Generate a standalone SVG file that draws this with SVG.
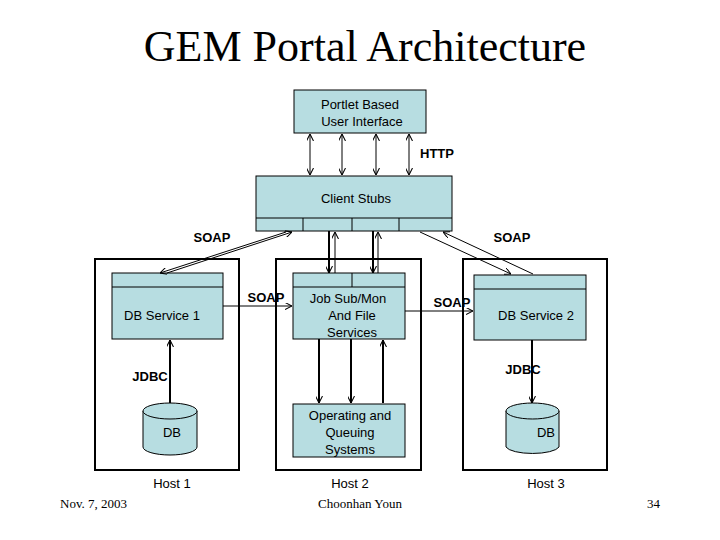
<svg xmlns="http://www.w3.org/2000/svg" width="720" height="540" viewBox="0 0 720 540">
<style>
.b{fill:#b7dde1;stroke:#000;stroke-width:1}
.h{fill:none;stroke:#000;stroke-width:2}
.t{font-family:"Liberation Sans",Arial,sans-serif;font-size:13px;text-anchor:middle}
.l{font-family:"Liberation Sans",Arial,sans-serif;font-size:13px;font-weight:bold;text-anchor:middle}
.s{font-family:"Liberation Serif","Times New Roman",serif}
.c{stroke:#000;stroke-width:1;fill:none}
.k{stroke:#000;stroke-width:2;fill:none}
</style>
<defs>
<marker id="a" viewBox="0 0 10 10" refX="10" refY="5" markerWidth="7" markerHeight="7" orient="auto-start-reverse" markerUnits="userSpaceOnUse"><path d="M0,0 L10,5 L0,10" fill="none" stroke="#000" stroke-width="1.5"/></marker>
</defs>
<rect width="720" height="540" fill="#fff"/>
<text x="365" y="61" class="s" font-size="44" text-anchor="middle">GEM Portal Architecture</text>
<g id="hosts">
<rect x="95" y="259" width="144" height="211" class="h"/>
<rect x="276" y="259" width="145" height="211" class="h"/>
<rect x="463" y="259" width="144" height="211" class="h"/>
<text x="172" y="488" class="t">Host 1</text>
<text x="350" y="488" class="t">Host 2</text>
<text x="546" y="488" class="t">Host 3</text>
</g>
<g id="portlet"><rect x="294" y="90" width="132" height="43" class="b"/>
<text x="360" y="109" class="t">Portlet Based</text><text x="362" y="126" class="t">User Interface</text></g>
<g id="stubs"><rect x="256" y="176" width="196" height="55" class="b"/>
<line x1="256" y1="218" x2="452" y2="218" class="c"/>
<line x1="303" y1="218" x2="303" y2="231" class="c"/><line x1="352" y1="218" x2="352" y2="231" class="c"/><line x1="399" y1="218" x2="399" y2="231" class="c"/>
<text x="356" y="203" class="t">Client Stubs</text></g>
<g id="dbs1"><rect x="112" y="273" width="111" height="66" class="b"/><line x1="112" y1="287" x2="223" y2="287" class="c"/>
<text x="162" y="320" class="t">DB Service 1</text></g>
<g id="job"><rect x="293" y="273" width="112" height="66" class="b"/><line x1="293" y1="287" x2="405" y2="287" class="c"/><line x1="352" y1="273" x2="352" y2="287" class="c"/>
<text x="348" y="303" class="t">Job Sub/Mon</text><text x="352" y="320" class="t">And File</text><text x="352" y="337" class="t">Services</text></g>
<g id="dbs2"><rect x="474" y="275" width="112" height="65" class="b"/><line x1="474" y1="289" x2="586" y2="289" class="c"/>
<text x="536" y="320" class="t">DB Service 2</text></g>
<g id="ops"><rect x="293" y="404" width="112" height="53" class="b"/>
<text x="350" y="420" class="t">Operating and</text><text x="350" y="437" class="t">Queuing</text><text x="350" y="454" class="t">Systems</text></g>
<g id="db1"><path d="M143,411 V447 A27,8 0 0 0 197,447 V411" class="b"/><ellipse cx="170" cy="411" rx="27" ry="8" class="b"/><text x="172" y="437" class="t">DB</text></g>
<g id="db3"><path d="M506,411 V447 A27,8 0 0 0 559,447 V411" class="b"/><ellipse cx="532.5" cy="411" rx="26.5" ry="8" class="b"/><text x="546" y="437" class="t">DB</text></g>
<g id="connectors">
<line x1="310" y1="134" x2="310" y2="175" class="c" marker-start="url(#a)" marker-end="url(#a)"/>
<line x1="342" y1="134" x2="342" y2="175" class="c" marker-start="url(#a)" marker-end="url(#a)"/>
<line x1="376" y1="134" x2="376" y2="175" class="c" marker-start="url(#a)" marker-end="url(#a)"/>
<line x1="409" y1="134" x2="409" y2="175" class="c" marker-start="url(#a)" marker-end="url(#a)"/>
<line x1="286" y1="232" x2="160" y2="273" class="c" marker-end="url(#a)"/>
<line x1="167" y1="273" x2="292" y2="232" class="c" marker-end="url(#a)"/>
<line x1="420" y1="232" x2="511" y2="274" class="c" marker-end="url(#a)"/>
<line x1="533" y1="274" x2="443" y2="232" class="c" marker-end="url(#a)"/>
<line x1="329" y1="231" x2="329" y2="273" class="k" marker-end="url(#a)"/>
<line x1="335" y1="273" x2="335" y2="232" class="c" marker-end="url(#a)"/>
<line x1="373" y1="231" x2="373" y2="273" class="k" marker-end="url(#a)"/>
<line x1="378" y1="273" x2="378" y2="232" class="c" marker-end="url(#a)"/>
<line x1="223" y1="306" x2="292" y2="306" class="c" marker-end="url(#a)"/>
<line x1="405" y1="311" x2="473" y2="311" class="c" marker-end="url(#a)"/>
<line x1="170" y1="403" x2="170" y2="340" class="k" marker-end="url(#a)"/>
<line x1="532" y1="340" x2="532" y2="403" class="k" marker-end="url(#a)"/>
<line x1="319" y1="339" x2="319" y2="403" class="k" marker-end="url(#a)"/>
<line x1="351" y1="339" x2="351" y2="403" class="k" marker-end="url(#a)"/>
<line x1="383" y1="403" x2="383" y2="340" class="k" marker-end="url(#a)"/>
</g>
<g id="labels">
<text x="437" y="158" class="l">HTTP</text>
<text x="212" y="242" class="l">SOAP</text>
<text x="512" y="242" class="l">SOAP</text>
<text x="266" y="302" class="l">SOAP</text>
<text x="452" y="307" class="l">SOAP</text>
<text x="150" y="381" class="l">JDBC</text>
<text x="523" y="374" class="l">JDBC</text>
</g>
<text x="60" y="508" class="s" font-size="13">Nov. 7, 2003</text>
<text x="360" y="508" class="s" font-size="13" text-anchor="middle">Choonhan Youn</text>
<text x="660" y="508" class="s" font-size="13" text-anchor="end">34</text>
</svg>
